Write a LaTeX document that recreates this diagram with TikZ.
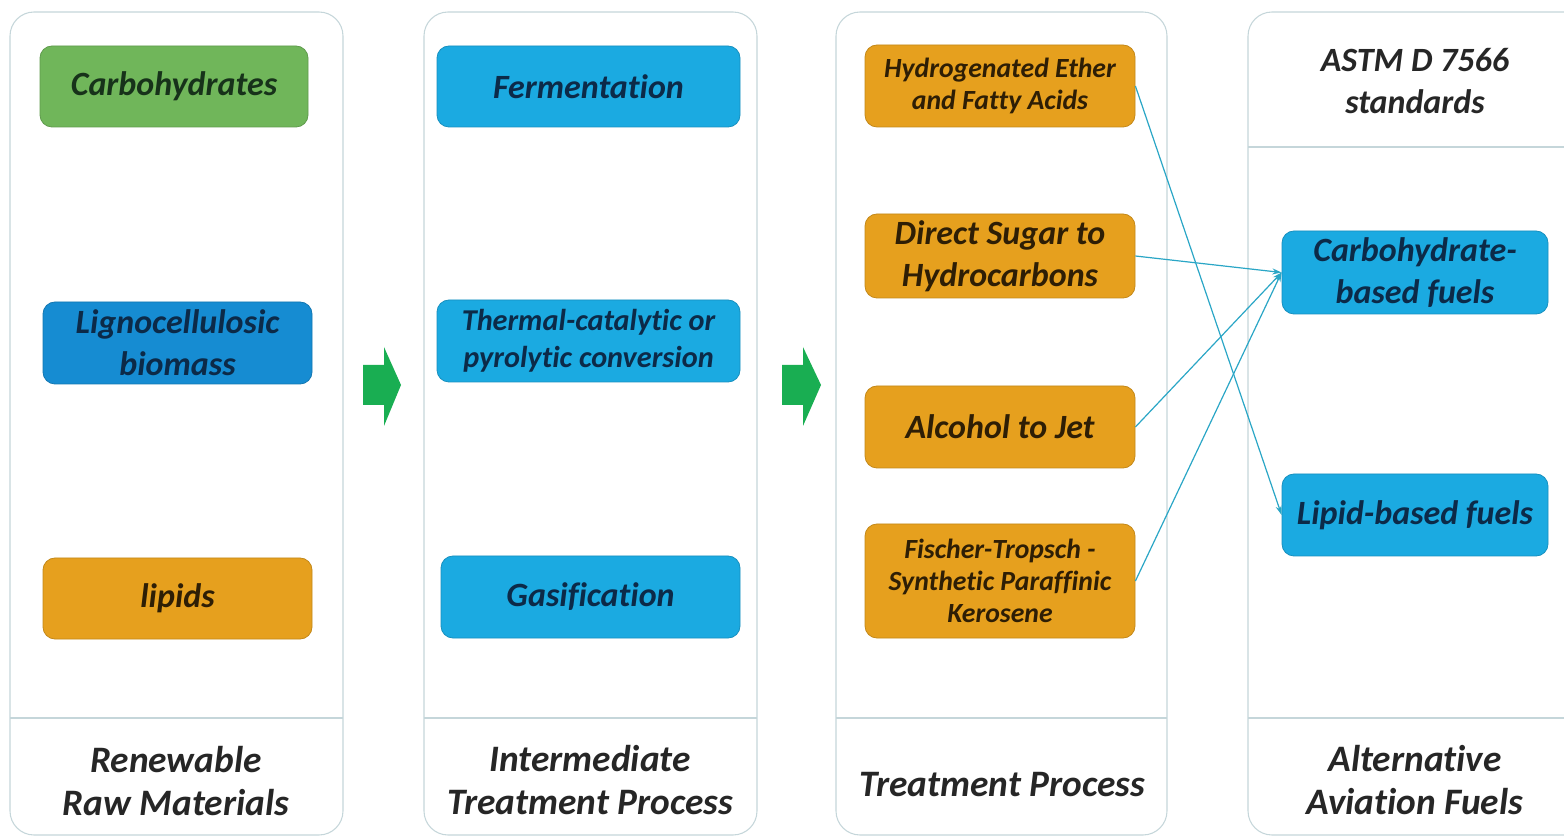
\documentclass[tikz,border=0pt]{standalone}
\usepackage{fontspec}
\setmainfont[Ligatures={NoCommon,NoContextual},RawFeature={-liga;-clig;-calt;-dlig}]{Carlito}
\usetikzlibrary{arrows.meta}
\definecolor{panelline}{HTML}{C5D6DA}
\definecolor{cgreen}{HTML}{70B65A}
\definecolor{cdblue}{HTML}{168CD2}
\definecolor{ccyan}{HTML}{1BAAE1}
\definecolor{corange}{HTML}{E6A01E}
\definecolor{tgreen}{HTML}{17321A}
\definecolor{tblue}{HTML}{0C2A48}
\definecolor{tbrown}{HTML}{2E1E05}
\definecolor{arrowgreen}{HTML}{19AE52}
\definecolor{linkc}{HTML}{2AA6C6}
\tikzset{
  x=0.75pt, y=-0.75pt,
  panel/.style={draw=panelline, line width=0.8pt, fill=white, rounded corners=18pt},
  divider/.style={draw=panelline, line width=0.9pt},
  box/.style={rounded corners=9pt, align=center, inner sep=0pt, line width=0.6pt,
    font=\fontsize{25.5}{31.5}\selectfont\bfseries\itshape},
  gbox/.style={box, fill=cgreen, draw=cgreen!85!black, text=tgreen},
  dbbox/.style={box, fill=cdblue, draw=cdblue!85!black, text=tblue},
  cbox/.style={box, fill=ccyan, draw=ccyan!85!black, text=tblue},
  obox/.style={box, fill=corange, draw=corange!85!black, text=tbrown},
  small/.style={font=\fontsize{20.8}{24}\selectfont\bfseries\itshape},
  mid/.style={font=\fontsize{22.7}{28}\selectfont\bfseries\itshape},
  title/.style={align=center, text=black!85, font=\fontsize{28}{32.5}\selectfont\bfseries\itshape},
  blockarrow/.style={fill=arrowgreen, draw=none},
  link/.style={draw=linkc, line width=0.9pt, -{Stealth[length=7pt,width=4.5pt]}}
}
\begin{document}
\begin{tikzpicture}
\useasboundingbox (0,0) rectangle (1564,837);
% panels
\begin{scope}
\clip (0,0) rectangle (1564,837);
\draw[panel] (10,12) rectangle (343,835);
\draw[panel] (424,12) rectangle (757,835);
\draw[panel] (836,12) rectangle (1167,835);
\draw[panel] (1248,12) rectangle (1600,835);
\end{scope}
\draw[divider] (10,718) -- (343,718);
\draw[divider] (424,718) -- (757,718);
\draw[divider] (836,718) -- (1167,718);
\draw[divider] (1248,718) -- (1564,718);
\draw[divider] (1248,147) -- (1564,147);
% titles
\node[title] (t1) at (176,781) {Renewable\\Raw Materials};
\node[title] (t2) at (590,780) {Intermediate\\Treatment Process};
\node[title] (t3) at (1002,785) {Treatment Process};
\node[title] (t4) at (1415,780) {Alternative\\Aviation Fuels};
\node[align=center, text=black!85, font=\fontsize{25.5}{31}\selectfont\bfseries\itshape] (astm) at (1415,81) {ASTM D 7566\\standards};
% column 1
\node[gbox, minimum width=201pt, minimum height=60.75pt] (carb) at (174,86.5) {Carbohydrates};
\node[dbbox, minimum width=201.75pt, minimum height=61.5pt] (ligno) at (177.5,343) {Lignocellulosic\\biomass};
\node[obox, minimum width=201.75pt, minimum height=60.75pt] (lip) at (177.5,598.5) {lipids};
% column 2
\node[cbox, minimum width=227.25pt, minimum height=60.75pt] (ferm) at (588.5,86.5) {Fermentation};
\node[cbox, mid, text=tblue, minimum width=227.25pt, minimum height=61.5pt] (therm) at (588.5,341) {Thermal-catalytic or\\pyrolytic conversion};
\node[cbox, minimum width=224.25pt, minimum height=61.5pt] (gas) at (590.5,597) {Gasification};
% column 3
\node[obox, small, minimum width=202.5pt, minimum height=61.5pt] (hefa) at (1000,86) {Hydrogenated Ether\\and Fatty Acids};
\node[obox, minimum width=202.5pt, minimum height=63pt] (dsh) at (1000,256) {Direct Sugar to\\Hydrocarbons};
\node[obox, minimum width=202.5pt, minimum height=61.5pt] (atj) at (1000,427) {Alcohol to Jet};
\node[obox, small, minimum width=202.5pt, minimum height=85.5pt] (ft) at (1000,581) {Fischer-Tropsch -\\Synthetic Paraffinic\\Kerosene};
% column 4
\node[cbox, minimum width=199.5pt, minimum height=62.25pt] (cbf) at (1415,272.5) {Carbohydrate-\\based fuels};
\node[cbox, minimum width=199.5pt, minimum height=61.5pt] (lbf) at (1415,515) {Lipid-based fuels};
% block arrows
\fill[blockarrow] (363,365) -- (384,365) -- (384,347) -- (401,385) -- (384,426) -- (384,405) -- (363,405) -- cycle;
\fill[blockarrow] (782,365) -- (803,365) -- (803,347) -- (821,385) -- (803,426) -- (803,405) -- (782,405) -- cycle;
% links
\draw[link] (hefa.east) -- (lbf.west);
\draw[link] (dsh.east) -- (cbf.west);
\draw[link] (atj.east) -- (cbf.west);
\draw[link] (ft.east) -- (cbf.west);
\end{tikzpicture}
\end{document}
